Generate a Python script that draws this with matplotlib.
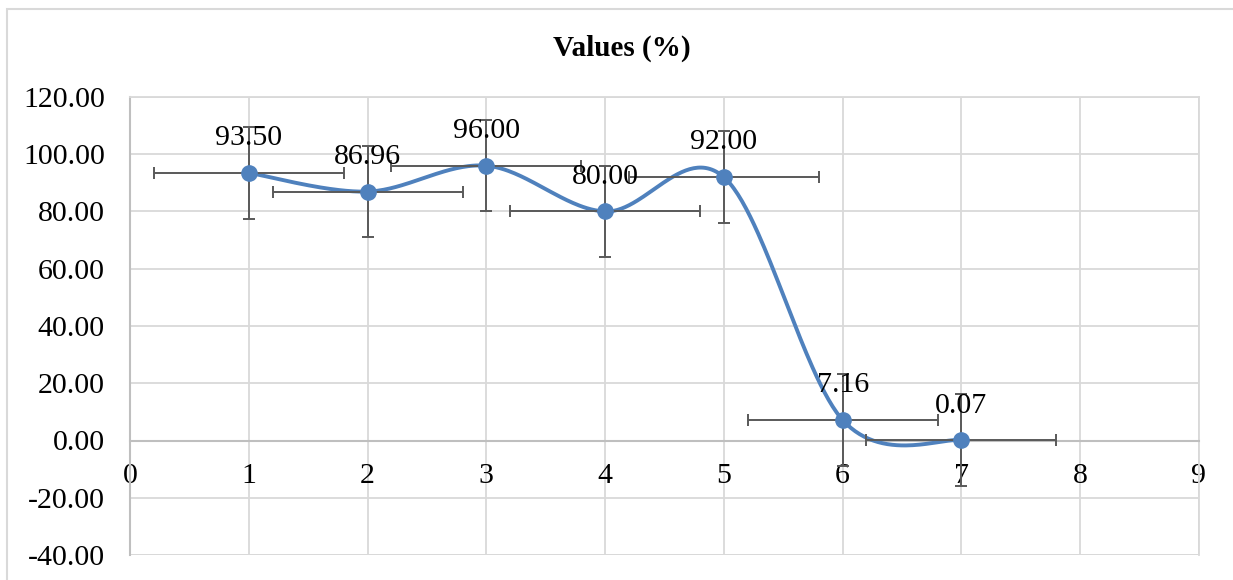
import numpy as np
import matplotlib.pyplot as plt
from matplotlib.patches import Rectangle

plt.rcParams['font.family'] = ['Liberation Serif', 'DejaVu Serif']

x = [1, 2, 3, 4, 5, 6, 7]
values = [93.50, 86.96, 96.00, 80.00, 92.00, 7.16, 0.07]
x_err = 0.8
y_err = 16
labels = ['93.50', '86.96', '96.00', '80.00', '92.00', '7.16', '0.07']

blue = '#4F81BD'


def smooth(px, py, n=60):
    # Excel-style smoothed line: Bezier with Catmull-Rom control points
    px = np.asarray(px, float)
    py = np.asarray(py, float)
    pts = np.column_stack([px, py])
    out = []
    for i in range(len(pts) - 1):
        p0 = pts[i - 1] if i > 0 else pts[i]
        p1 = pts[i]
        p2 = pts[i + 1]
        p3 = pts[i + 2] if i + 2 < len(pts) else pts[i + 1]
        c1 = p1 + (p2 - p0) / 6
        c2 = p2 - (p3 - p1) / 6
        t = np.linspace(0, 1, n)[:, None]
        seg = ((1 - t) ** 3) * p1 + 3 * ((1 - t) ** 2) * t * c1 + 3 * (1 - t) * t ** 2 * c2 + t ** 3 * p2
        out.append(seg if i == 0 else seg[1:])
    out = np.vstack(out)
    return out[:, 0], out[:, 1]


fig = plt.figure(figsize=(12.33, 5.8), dpi=100)
ax = fig.add_axes([130 / 1233, 1 - 555 / 580, (1199 - 130) / 1233, (555 - 97) / 580])

fig.patches.append(Rectangle((7 / 1233, -0.1), 1.2, (580 - 9) / 580 + 0.1,
                             transform=fig.transFigure, fill=False,
                             edgecolor='#D9D9D9', linewidth=1.5))

ax.set_xlim(0, 9)
ax.set_ylim(-40, 120)
ax.set_xticks(range(0, 10))
ax.set_yticks(np.arange(-40, 121, 20))
ax.set_yticklabels([f'{v:.2f}' for v in np.arange(-40, 121, 20)])
ax.grid(True, color='#D9D9D9', linewidth=1.3)
ax.set_axisbelow(True)

for s in ['top', 'right']:
    ax.spines[s].set_color('#D9D9D9')
    ax.spines[s].set_linewidth(1.3)
ax.spines['bottom'].set_position(('data', 0))
ax.spines['bottom'].set_color('#BFBFBF')
ax.spines['bottom'].set_linewidth(1.5)
ax.spines['left'].set_color('#BFBFBF')
ax.spines['left'].set_linewidth(1.5)
ax.axhline(-40, color='#D9D9D9', linewidth=1.3, zorder=0)

ax.tick_params(axis='both', length=0, labelsize=21.5)
ax.tick_params(axis='x', pad=16)
ax.tick_params(axis='y', pad=18)

sx, sy = smooth(x, values)
ax.plot(sx, sy, color=blue, linewidth=2.8, zorder=3, solid_capstyle='round')
ax.errorbar(x, values, xerr=x_err, yerr=y_err, fmt='none', ecolor='#595959',
            elinewidth=1.4, capsize=4.3, capthick=1.4, zorder=4)
ax.plot(x, values, 'o', color=blue, markersize=11, zorder=5)

for xi, yi, lab in zip(x, values, labels):
    ax.annotate(lab, (xi, yi), xytext=(0, 25), textcoords='offset points',
                ha='center', va='center', fontsize=21.5, color='black', zorder=6)

fig.text(622 / 1233, 1 - 48 / 580, 'Values (%)', ha='center', va='center',
         fontsize=21, fontweight='bold')

fig.savefig('out.png', dpi=100)
